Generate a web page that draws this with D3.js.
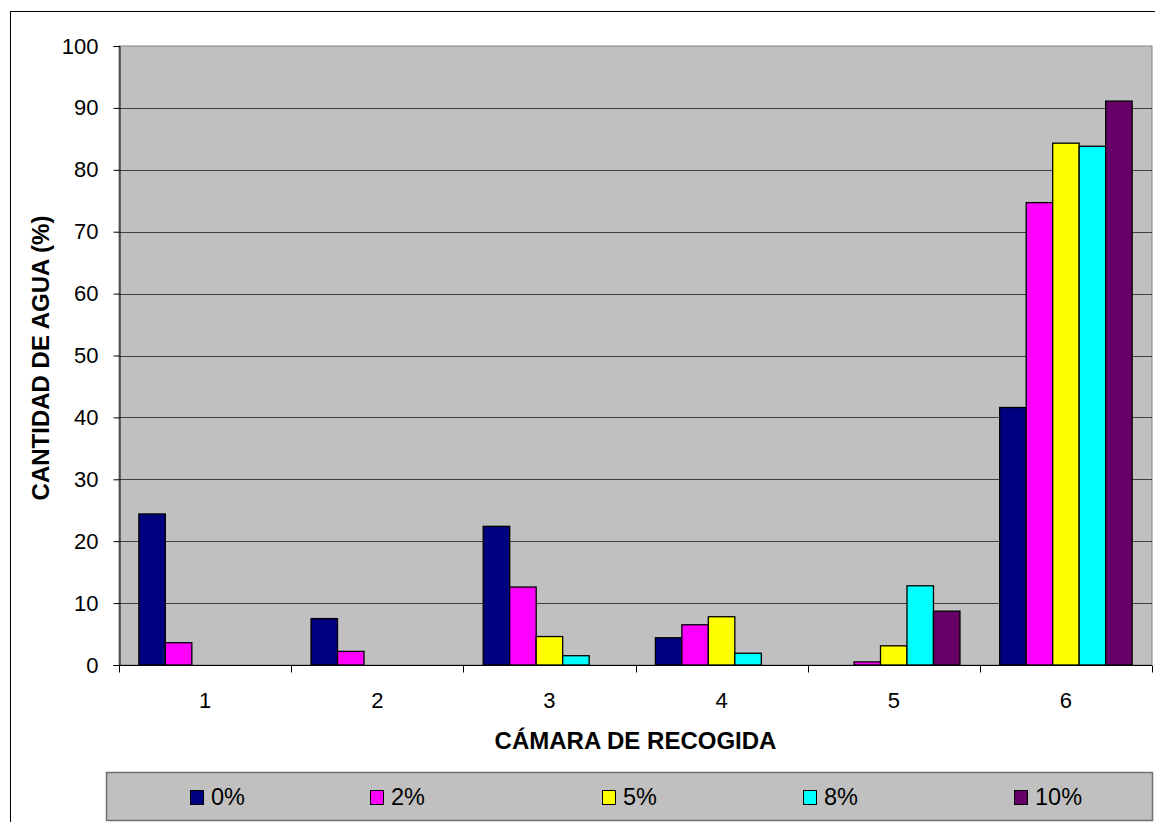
<!DOCTYPE html>
<html>
<head>
<meta charset="utf-8">
<script src="https://cdn.jsdelivr.net/npm/d3@7"></script>
<style>
  html, body { margin: 0; padding: 0; background: #fff; }
  svg { display: block; font-family: Arial, "Liberation Sans", sans-serif; }
</style>
</head>
<body>
<svg id="chart" width="1155" height="822"></svg>
<script>
// Water collected in each chamber, by additive percentage
const categories = ["1", "2", "3", "4", "5", "6"];
const seriesNames = ["0%", "2%", "5%", "8%", "10%"];
const colors = ["#000080", "#FF00FF", "#FFFF00", "#00FFFF", "#660066"];
const s0 = [24.4, 7.5, 22.4, 4.4, 0, 41.6];
const s2 = [3.6, 2.2, 12.6, 6.5, 0.5, 74.7];
const s5 = [0, 0, 4.6, 7.8, 3.1, 84.3];
const s8 = [0, 0, 1.5, 1.9, 12.8, 83.8];
const s10 = [0, 0, 0, 0, 8.7, 91.1];
const yTicks = [0, 10, 20, 30, 40, 50, 60, 70, 80, 90, 100];
const xTitle = "CÁMARA DE RECOGIDA";
const yTitle = "CANTIDAD DE AGUA (%)";

const seriesValues = [s0, s2, s5, s8, s10];
const FONT = "Arial, 'Liberation Sans', sans-serif";

const svg = d3.select("#chart");
const plot = { left: 119, top: 46, right: 1152, bottom: 665 };

// Outer chart frame
svg.append("rect")
  .attr("x", 10.5).attr("y", 11.5)
  .attr("width", 1160).attr("height", 830)
  .attr("fill", "#fff").attr("stroke", "#000").attr("stroke-width", 1);

const x0 = d3.scaleBand().domain(categories)
  .range([plot.left, plot.right]).paddingInner(0).paddingOuter(0);
// Gap of 150% of a bar width between groups
const bw = x0.bandwidth() / (seriesNames.length + 1.5);
const x1 = d3.scaleBand().domain(seriesNames)
  .range([0.75 * bw, x0.bandwidth() - 0.75 * bw]).padding(0);
const y = d3.scaleLinear().domain([0, 100]).range([plot.bottom, plot.top]);

// Plot background
svg.append("rect")
  .attr("x", plot.left).attr("y", plot.top)
  .attr("width", plot.right - plot.left).attr("height", plot.bottom - plot.top)
  .attr("fill", "#C0C0C0").attr("stroke", "#808080").attr("stroke-width", 1);

// Horizontal gridlines
svg.append("g").selectAll("line")
  .data(yTicks.filter(d => d > 0 && d < 100))
  .join("line")
  .attr("x1", plot.left).attr("x2", plot.right)
  .attr("y1", d => Math.round(y(d)) + 0.5).attr("y2", d => Math.round(y(d)) + 0.5)
  .attr("stroke", "#404040").attr("stroke-width", 1);

// Bars
const groups = svg.append("g").selectAll("g")
  .data(categories)
  .join("g")
  .attr("transform", c => `translate(${x0(c)},0)`);

groups.selectAll("rect")
  .data((c, ci) => seriesNames.map((s, si) => ({ s, si, v: seriesValues[si][ci] })))
  .join("rect")
  .filter(d => d.v > 0)
  .attr("x", d => x1(d.s))
  .attr("y", d => y(d.v))
  .attr("width", x1.bandwidth())
  .attr("height", d => y(0) - y(d.v))
  .attr("fill", d => colors[d.si])
  .attr("stroke", "#000").attr("stroke-width", 1.3);

// Y axis
const yAxis = d3.axisLeft(y).tickValues(yTicks).tickSize(6).tickPadding(15)
  .tickFormat(d3.format("d"));
const gy = svg.append("g").attr("transform", `translate(${plot.left + 0.5},0)`).call(yAxis);
gy.attr("font-size", null).attr("font-family", null);
gy.select(".domain").attr("stroke", "#000");
gy.selectAll(".tick line").attr("stroke", "#000");
gy.selectAll(".tick text")
  .style("font-size", "22px").style("font-family", FONT).attr("fill", "#000");

// X axis: ticks between categories
const gx = svg.append("g").attr("transform", `translate(0,${plot.bottom + 0.5})`);
gx.append("line").attr("x1", plot.left).attr("x2", plot.right)
  .attr("stroke", "#000");
const boundaries = categories.map(c => x0(c)).concat([plot.right]);
gx.selectAll("line.tk").data(boundaries).join("line").attr("class", "tk")
  .attr("x1", d => Math.round(d) + 0.5).attr("x2", d => Math.round(d) + 0.5)
  .attr("y1", 0).attr("y2", 7).attr("stroke", "#000");
gx.selectAll("text").data(categories).join("text")
  .attr("x", c => x0(c) + x0.bandwidth() / 2)
  .attr("y", 42)
  .attr("text-anchor", "middle")
  .style("font-size", "22px").attr("fill", "#000")
  .text(c => c);

// Axis titles
svg.append("text")
  .attr("x", (plot.left + plot.right) / 2).attr("y", 749)
  .attr("text-anchor", "middle").style("font-size", "24px").attr("font-weight", "bold")
  .text(xTitle);
svg.append("text")
  .attr("transform", `translate(49,358) rotate(-90)`)
  .attr("text-anchor", "middle").style("font-size", "24px").attr("font-weight", "bold")
  .text(yTitle);

// Legend
const legend = svg.append("g");
legend.append("rect")
  .attr("x", 106.5).attr("y", 772.5).attr("width", 1046).attr("height", 48)
  .attr("fill", "#C0C0C0").attr("stroke", "#707070").attr("stroke-width", 1.5);
const legendPos = [190, 370, 602, 803, 1014];
const items = legend.selectAll("g.item").data(seriesNames).join("g").attr("class", "item")
  .attr("transform", (d, i) => `translate(${legendPos[i]},790)`);
items.append("rect").attr("x", 0.5).attr("y", 0.5).attr("width", 13).attr("height", 14)
  .attr("fill", (d, i) => colors[i]).attr("stroke", "#000").attr("stroke-width", 1);
items.append("text").attr("x", 21).attr("y", 15)
  .style("font-size", "23.5px").attr("fill", "#000").text(d => d);
</script>
</body>
</html>
